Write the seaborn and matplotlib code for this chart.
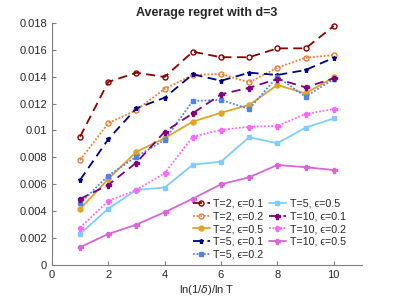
import numpy as np
import pandas as pd
import matplotlib
matplotlib.use('Agg')
import matplotlib.pyplot as plt
import seaborn as sns

# x values: ln(1/delta)/ln T
x_vals = [1, 2, 3, 4, 5, 6, 7, 8, 9, 10]

# average regret, one list per (T, epsilon)
t2_e01 = [0.00954, 0.01361, 0.01430, 0.01398, 0.01586, 0.01545, 0.01545, 0.01611, 0.01611, 0.01777]
t2_e02 = [0.00780, 0.01054, 0.01152, 0.01309, 0.01413, 0.01420, 0.01358, 0.01467, 0.01541, 0.01561]
t2_e05 = [0.00416, 0.00639, 0.00842, 0.00942, 0.01066, 0.01132, 0.01190, 0.01338, 0.01276, 0.01395]
t5_e01 = [0.00632, 0.00935, 0.01165, 0.01244, 0.01418, 0.01370, 0.01430, 0.01413, 0.01450, 0.01541]
t5_e02 = [0.00459, 0.00664, 0.00805, 0.00930, 0.01220, 0.01227, 0.01160, 0.01400, 0.01251, 0.01383]
t5_e05 = [0.00230, 0.00419, 0.00558, 0.00575, 0.00746, 0.00768, 0.00950, 0.00905, 0.01021, 0.01090]
t10_e01 = [0.00491, 0.00595, 0.00761, 0.00990, 0.01128, 0.01269, 0.01318, 0.01383, 0.01321, 0.01388]
t10_e02 = [0.00277, 0.00476, 0.00558, 0.00682, 0.00954, 0.01004, 0.01028, 0.01034, 0.01123, 0.01160]
t10_e05 = [0.00132, 0.00230, 0.00300, 0.00392, 0.00493, 0.00600, 0.00652, 0.00743, 0.00727, 0.00706]

labels = ['T=2, ϵ=0.1', 'T=2, ϵ=0.2', 'T=2, ϵ=0.5',
          'T=5, ϵ=0.1', 'T=5, ϵ=0.2', 'T=5, ϵ=0.5',
          'T=10, ϵ=0.1', 'T=10, ϵ=0.2', 'T=10, ϵ=0.5']
series = [t2_e01, t2_e02, t2_e05, t5_e01, t5_e02, t5_e05, t10_e01, t10_e02, t10_e05]

# styles: color, linestyle, marker, filled
dash = (0, (5, 3))
dot = (0, (1, 1))
styles = [
    ('#8b0000', dash, 'o', False),
    ('#e8803a', dot, 'o', False),
    ('#e0a526', '-', 'o', True),
    ('#00008b', dash, '*', True),
    ('#4f83f0', dot, 's', True),
    ('#7fccff', '-', 's', True),
    ('#800080', dash, 'P', True),
    ('#ff66ff', dot, 'P', True),
    ('#d866d8', '-', 'P', True),
]

sns.set_style('white')
plt.rcParams['font.family'] = ['Liberation Sans', 'DejaVu Sans']
plt.rcParams['mathtext.fontset'] = 'dejavusans'

fig = plt.figure(figsize=(3.99, 2.98), dpi=100)
ax = fig.add_axes([0.130, 0.111, 0.777, 0.812])

for lab, ys, (col, ls, mk, filled) in zip(labels, series, styles):
    df = pd.DataFrame({'x': x_vals, 'y': ys})
    sns.lineplot(data=df, x='x', y='y', ax=ax, color=col, linestyle=ls,
                 linewidth=1.3, marker=mk, markersize=3.6 if mk != 's' else 2.6,
                 markerfacecolor=(col if filled else 'none'),
                 markeredgecolor=col, markeredgewidth=1.0, label=lab)

ax.set_xlim(0, 11)
ax.set_ylim(0, 0.018)
ax.set_xticks([0, 2, 4, 6, 8, 10])
yt = [0, 0.002, 0.004, 0.006, 0.008, 0.01, 0.012, 0.014, 0.016, 0.018]
ax.set_yticks(yt)
ax.set_yticklabels(['0', '0.002', '0.004', '0.006', '0.008', '0.01',
                    '0.012', '0.014', '0.016', '0.018'])

for s in ['top', 'right']:
    ax.spines[s].set_visible(False)
for s in ['left', 'bottom']:
    ax.spines[s].set_color('#7f7f7f')
    ax.spines[s].set_linewidth(0.8)
ax.tick_params(direction='in', length=3, width=0.8, color='#7f7f7f',
               labelsize=8, labelcolor='#262626', left=True, bottom=True)

ax.set_title('Average regret with d=3', fontsize=9, fontweight='bold', pad=5)
ax.set_xlabel(r'ln(1/$\delta$)/ln T', fontsize=8, color='#262626', labelpad=2)
ax.set_ylabel('')

ax.legend(ncol=2, loc='lower right', bbox_to_anchor=(0.965, 0.0), frameon=False,
          fontsize=7.7, handlelength=1.6, handletextpad=0.35, columnspacing=0.5,
          labelspacing=0.25, borderaxespad=0.3, borderpad=0.2)

fig.savefig('out.png', dpi=100)
